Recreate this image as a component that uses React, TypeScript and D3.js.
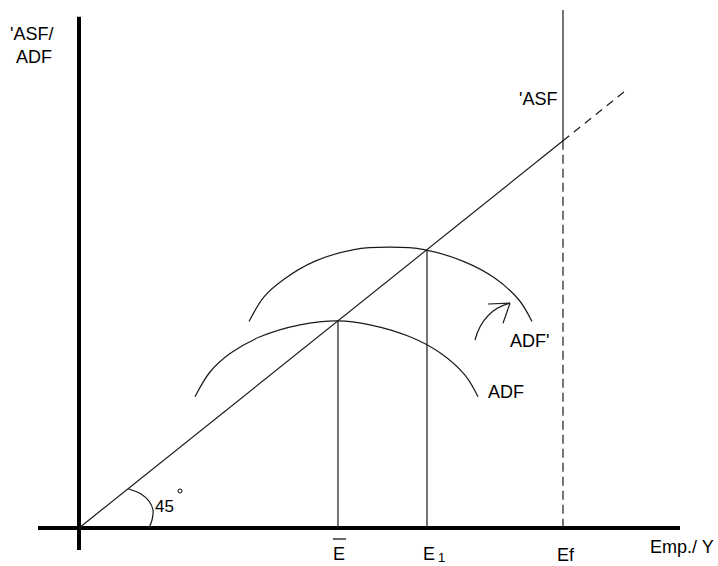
import React from "react";
import * as d3 from "d3";

// Data (economic units; 45° line is y = x)
const adfCurve: [number, number][] = [
  [116, 164], [131, 195], [151, 218], [181, 239], [221, 254], [259, 259],
  [291, 254], [331, 239], [361, 219], [386, 191], [399, 164],
];
const adfPrimeCurve: [number, number][] = [
  [170, 258], [185, 289], [205, 311], [235, 333], [275, 348], [311, 351],
  [345, 348], [385, 333], [415, 313], [440, 285], [453, 258],
];
const eBar = 259;
const e1 = 348;
const ef = 484;
const lineEnd = 549;
const xAxisExtent = [-41, 601];
const yAxisExtent = [-27.5, 639];
const efTop = 647.5;
const arrowBody: [number, number][] = [[396, 235], [404, 272], [431, 281]];
const arrowArms: [number, number][] = [[409, 280], [424, 256]];
const angleArc: [number, number][] = [[49, 49], [62, 42.5], [70, 33.5], [74, 22.5], [73, 10], [70, 0]];

const W = 718;
const H = 566;
const font = "'Liberation Sans', Arial, sans-serif";

export default function App() {
  const x = d3.scaleLinear().domain([0, 600]).range([79, 679]);
  const y = d3.scaleLinear().domain([0, 600]).range([528, 48]);

  const curveGen = d3
    .line<[number, number]>()
    .x((d) => x(d[0]))
    .y((d) => y(d[1]))
    .curve(d3.curveCatmullRom.alpha(0.5));

  const arrowPath = `M${x(arrowBody[0][0])},${y(arrowBody[0][1])} Q${x(arrowBody[1][0])},${y(arrowBody[1][1])} ${x(arrowBody[2][0])},${y(arrowBody[2][1])}`;
  const tip = arrowBody[2];

  const stroke = "#1a1a1a";
  const sw = 1.2;

  return (
    <svg
      width={W}
      height={H}
      style={{ position: "absolute", left: 0, top: 0, background: "#fff" }}
      fontFamily={font}
    >
      <rect width={W} height={H} fill="#fff" />
      {/* Axes */}
      <line x1={x(0)} x2={x(0)} y1={y(yAxisExtent[0])} y2={y(yAxisExtent[1])} stroke="#000" strokeWidth={4} />
      <line x1={x(xAxisExtent[0])} x2={x(xAxisExtent[1])} y1={y(0)} y2={y(0)} stroke="#000" strokeWidth={4} />

      {/* 45 degree line */}
      <line x1={x(0)} y1={y(0)} x2={x(ef)} y2={y(ef)} stroke={stroke} strokeWidth={sw} />
      <line x1={x(ef)} y1={y(ef)} x2={x(lineEnd)} y2={y(lineEnd)} stroke={stroke} strokeWidth={sw} strokeDasharray="8,6" />

      {/* ASF vertical */}
      <line x1={x(ef)} x2={x(ef)} y1={y(efTop)} y2={y(ef)} stroke={stroke} strokeWidth={sw} />
      <line x1={x(ef)} x2={x(ef)} y1={y(ef)} y2={y(0)} stroke={stroke} strokeWidth={sw} strokeDasharray="9,5" />

      {/* Equilibrium verticals */}
      <line x1={x(eBar)} x2={x(eBar)} y1={y(0)} y2={y(eBar)} stroke={stroke} strokeWidth={sw} />
      <line x1={x(e1)} x2={x(e1)} y1={y(0)} y2={y(e1)} stroke={stroke} strokeWidth={sw} />

      {/* ADF curves */}
      <path d={curveGen(adfCurve) || ""} fill="none" stroke={stroke} strokeWidth={sw} />
      <path d={curveGen(adfPrimeCurve) || ""} fill="none" stroke={stroke} strokeWidth={sw} />

      {/* Shift arrow */}
      <path d={arrowPath} fill="none" stroke={stroke} strokeWidth={sw} />
      {arrowArms.map((a, i) => (
        <line key={i} x1={x(tip[0])} y1={y(tip[1])} x2={x(a[0])} y2={y(a[1])} stroke={stroke} strokeWidth={sw} />
      ))}

      {/* Angle arc */}
      <path d={curveGen(angleArc) || ""} fill="none" stroke={stroke} strokeWidth={sw} />
      <text x={155} y={512} fontSize={17} fill="#000">45</text>
      <circle cx={180} cy={491} r={2} fill="none" stroke="#000" strokeWidth={1} />

      {/* Labels */}
      <text x={10} y={40} fontSize={18} fill="#000">'ASF/</text>
      <text x={16} y={63} fontSize={18} fill="#000">ADF</text>
      <text x={519} y={105} fontSize={18} fill="#000">'ASF</text>
      <text x={510} y={347} fontSize={18} fill="#000">ADF'</text>
      <text x={488} y={398} fontSize={18} fill="#000">ADF</text>
      <text x={650} y={553} fontSize={18} fill="#000">Emp./ Y</text>

      <text x={333} y={560} fontSize={18} fill="#000">E</text>
      <line x1={333} x2={346} y1={539} y2={539} stroke="#000" strokeWidth={1.2} />
      <text x={423} y={560} fontSize={18} fill="#000">E</text>
      <text x={438} y={562} fontSize={13} fill="#000">1</text>
      <text x={557} y={561} fontSize={18} fill="#000">Ef</text>
    </svg>
  );
}
